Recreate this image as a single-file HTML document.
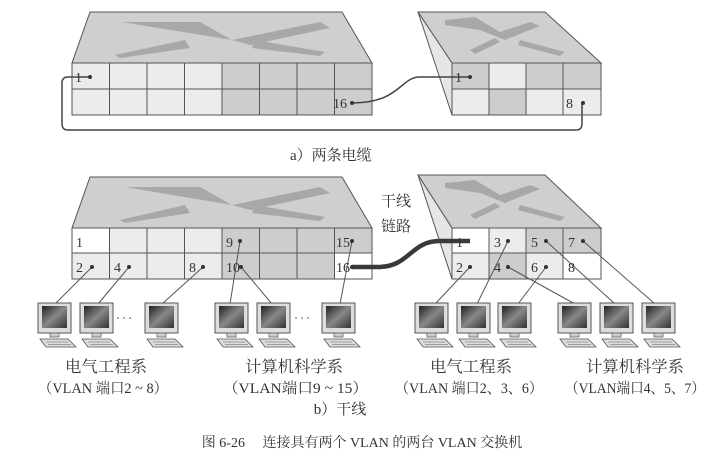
<!DOCTYPE html>
<html><head><meta charset="utf-8"><style>
html,body{margin:0;padding:0;background:#fff;}
svg{display:block;}
text{font-family:"Liberation Serif","Noto Serif CJK SC",serif;fill:#333;}
</style></head><body>
<svg width="719" height="463" viewBox="0 0 719 463" xmlns="http://www.w3.org/2000/svg">
<defs>
<linearGradient id="scr" x1="0" y1="0" x2="1" y2="1"><stop offset="0" stop-color="#222"/><stop offset="0.5" stop-color="#888"/><stop offset="1" stop-color="#333"/></linearGradient>
<g id="pc">
<rect x="0" y="0" width="33" height="30" fill="#ddd" stroke="#555" stroke-width="1"/>
<rect x="4" y="3" width="25" height="22" fill="url(#scr)"/>
<rect x="12" y="30" width="9" height="4" fill="#ccc" stroke="#666" stroke-width="0.8"/>
<polygon points="2,36 30,36 38,44 8,44" fill="#ddd" stroke="#555" stroke-width="0.8"/>
<line x1="8" y1="39" x2="30" y2="39" stroke="#888" stroke-width="0.8"/>
<line x1="10" y1="41.5" x2="33" y2="41.5" stroke="#888" stroke-width="0.8"/>
</g>
</defs>
<g stroke="#555" stroke-width="1">
<polygon points="90,12 342,12 372,63 72,63" fill="#cfcfcf"/>
<polygon points="122,22 200,22 232,40 320,22 330,28 250,45 232,40" fill="#a8a8a8" stroke="none"/>
<polygon points="115,55 185,40 190,48 120,58" fill="#a8a8a8" stroke="none"/>
<polygon points="255,40 325,52 320,56 252,48" fill="#a8a8a8" stroke="none"/>
<rect x="72" y="63" width="150" height="52" fill="#ececec"/>
<rect x="222" y="63" width="150" height="52" fill="#cdcdcd"/>
<path d="M109.5,63V115M147,63V115M184.5,63V115M222,63V115M259.5,63V115M297,63V115M334.5,63V115M72,89H372" fill="none"/>
<polygon points="418,12 545,12 601,63 452,63" fill="#cfcfcf"/>
<polygon points="418,12 452,63 452,115" fill="#e6e6e6"/>
<polygon points="445,20 475,17 500,32 530,22 540,26 505,40 480,30 445,25" fill="#a8a8a8" stroke="none"/>
<polygon points="470,50 495,38 500,42 475,54" fill="#a8a8a8" stroke="none"/>
<polygon points="520,40 565,52 560,56 518,45" fill="#a8a8a8" stroke="none"/>
<rect x="452" y="63" width="37" height="26" fill="#cdcdcd"/>
<rect x="489" y="63" width="37" height="26" fill="#ececec"/>
<rect x="526" y="63" width="75" height="26" fill="#cdcdcd"/>
<rect x="452" y="89" width="37" height="26" fill="#ececec"/>
<rect x="489" y="89" width="37" height="26" fill="#cdcdcd"/>
<rect x="526" y="89" width="75" height="26" fill="#ececec"/>
<path d="M489,63V115M526,63V115M563,63V115" fill="none"/>
</g>
<g fill="none" stroke="#444" stroke-width="1.5">
<path d="M90,77H68Q62,77 62,83V124Q62,130 68,130H576Q582,130 582,124V103"/>
<path d="M352,103C400,103 400,77 420,77H470"/>
</g>
<g fill="#333"><circle cx="90" cy="77" r="2"/><circle cx="352" cy="103" r="2"/><circle cx="470" cy="77" r="2"/><circle cx="583" cy="103" r="2"/></g>
<g font-size="14">
<text x="75" y="82">1</text><text x="333" y="108">16</text><text x="455" y="82">1</text><text x="566" y="108">8</text>
</g>
<text x="290" y="160" font-size="15">a）两条电缆</text>

<g stroke="#555" stroke-width="1">
<polygon points="90,177 342,177 372,228 72,228" fill="#cfcfcf"/>
<polygon points="125,187 200,187 232,205 320,187 330,193 250,210 232,205" fill="#a8a8a8" stroke="none"/>
<polygon points="120,220 185,205 190,213 125,223" fill="#a8a8a8" stroke="none"/>
<polygon points="255,205 325,217 320,221 252,213" fill="#a8a8a8" stroke="none"/>
<rect x="72" y="228" width="150" height="51" fill="#ececec"/>
<rect x="222" y="228" width="150" height="51" fill="#cdcdcd"/>
<rect x="72" y="228" width="37.5" height="25" fill="#fff"/>
<rect x="334.5" y="253" width="37.5" height="26" fill="#fff"/>
<path d="M109.5,228V279M147,228V279M184.5,228V279M222,228V279M259.5,228V279M297,228V279M334.5,228V279M72,253H372" fill="none"/>
<polygon points="418,175 545,175 601,228 452,228" fill="#cfcfcf"/>
<polygon points="418,175 452,228 452,279" fill="#e6e6e6"/>
<polygon points="445,183 475,180 500,195 530,185 540,189 505,203 480,193 445,188" fill="#a8a8a8" stroke="none"/>
<polygon points="470,215 495,203 500,207 475,219" fill="#a8a8a8" stroke="none"/>
<polygon points="520,205 565,217 560,221 518,210" fill="#a8a8a8" stroke="none"/>
<rect x="452" y="228" width="37" height="25" fill="#fff"/>
<rect x="489" y="228" width="37" height="25" fill="#ececec"/>
<rect x="526" y="228" width="75" height="25" fill="#cdcdcd"/>
<rect x="452" y="253" width="37" height="26" fill="#ececec"/>
<rect x="489" y="253" width="37" height="26" fill="#cdcdcd"/>
<rect x="526" y="253" width="37" height="26" fill="#ececec"/>
<rect x="563" y="253" width="38" height="26" fill="#fff"/>
<path d="M489,228V279M526,228V279M563,228V279" fill="none"/>
</g>
<g stroke="#555" stroke-width="1" fill="none">
<path d="M92,267L55,304M129,267L98,304M203,267L162,304M240,241L230,304M241,267L272,304M352,241L340,304"/>
<path d="M470,267L435,304M508,241L477,304M546,267L518,304M508,267L575,304M546,241L615,304M583,241L655,304"/>
</g>
<path d="M352,267H378C410,267 410,241 440,241H470" fill="none" stroke="#3a3a3a" stroke-width="4.5"/>
<g fill="#333">
<circle cx="92" cy="267" r="2"/><circle cx="129" cy="267" r="2"/><circle cx="203" cy="267" r="2"/><circle cx="241" cy="267" r="2"/><circle cx="240" cy="241" r="2"/><circle cx="352" cy="241" r="2"/><circle cx="352" cy="267" r="2"/>
<circle cx="470" cy="267" r="2"/><circle cx="508" cy="241" r="2"/><circle cx="546" cy="241" r="2"/><circle cx="583" cy="241" r="2"/><circle cx="508" cy="267" r="2"/><circle cx="546" cy="267" r="2"/>
</g>
<g font-size="14">
<text x="76" y="247">1</text><text x="226" y="247">9</text><text x="336" y="247">15</text>
<text x="76" y="272">2</text><text x="114" y="272">4</text><text x="189" y="272">8</text><text x="226" y="272">10</text><text x="336" y="272">16</text>
<text x="456" y="247">1</text><text x="494" y="247">3</text><text x="531" y="247">5</text><text x="568" y="247">7</text>
<text x="456" y="272">2</text><text x="494" y="272">4</text><text x="531" y="272">6</text><text x="568" y="272">8</text>
</g>
<text x="381" y="206" font-size="15">干线</text>
<text x="381" y="231" font-size="15">链路</text>
<use href="#pc" x="38" y="303"/><use href="#pc" x="80" y="303"/><use href="#pc" x="145" y="303"/>
<use href="#pc" x="215" y="303"/><use href="#pc" x="257" y="303"/><use href="#pc" x="322" y="303"/>
<use href="#pc" x="415" y="303"/><use href="#pc" x="457" y="303"/><use href="#pc" x="498" y="303"/>
<use href="#pc" x="558" y="303"/><use href="#pc" x="600" y="303"/><use href="#pc" x="642" y="303"/>
<g fill="#999"><circle cx="118" cy="318" r="1"/><circle cx="124" cy="318" r="1"/><circle cx="130" cy="318" r="1"/><circle cx="296" cy="318" r="1"/><circle cx="302" cy="318" r="1"/><circle cx="308" cy="318" r="1"/></g>
<g font-size="16">
<text x="65" y="372" textLength="82" lengthAdjust="spacingAndGlyphs">电气工程系</text>
<text x="38" y="393" font-size="15" textLength="130" lengthAdjust="spacingAndGlyphs">（VLAN 端口2 ~ 8）</text>
<text x="245" y="372" textLength="98" lengthAdjust="spacingAndGlyphs">计算机科学系</text>
<text x="223" y="393" font-size="15" textLength="145" lengthAdjust="spacingAndGlyphs">（VLAN端口9 ~ 15）</text>
<text x="430" y="372" textLength="82" lengthAdjust="spacingAndGlyphs">电气工程系</text>
<text x="395" y="393" font-size="15" textLength="148" lengthAdjust="spacingAndGlyphs">（VLAN 端口2、3、6）</text>
<text x="586" y="372" textLength="98" lengthAdjust="spacingAndGlyphs">计算机科学系</text>
<text x="565" y="393" font-size="15" textLength="140" lengthAdjust="spacingAndGlyphs">（VLAN端口4、5、7）</text>
</g>
<text x="340" y="414" font-size="15" text-anchor="middle">b）干线</text>
<text x="362" y="447" font-size="14" text-anchor="middle">图 6-26　 连接具有两个 VLAN 的两台 VLAN 交换机</text>
</svg>
</body></html>
